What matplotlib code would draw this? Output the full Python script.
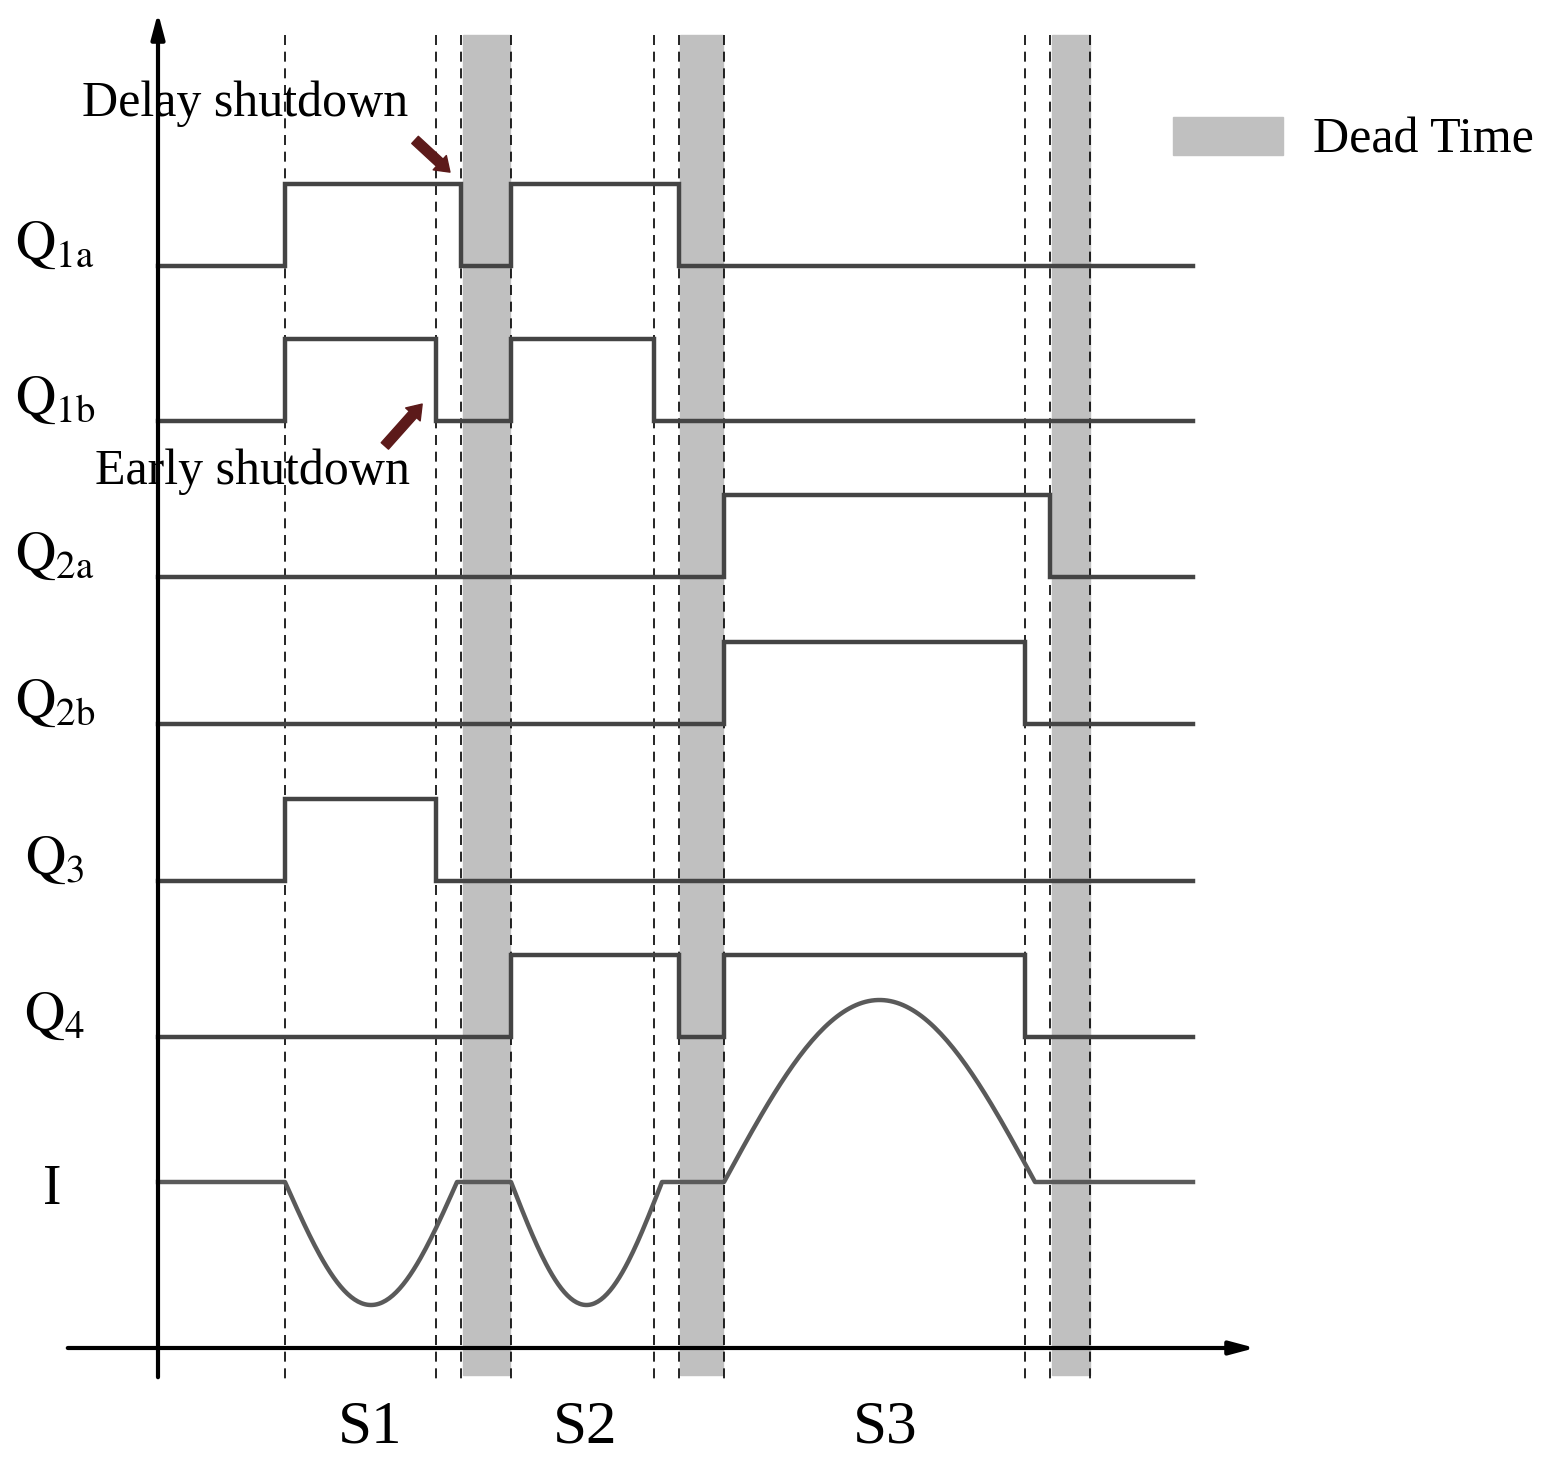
import numpy as np
import matplotlib
matplotlib.use("Agg")
import matplotlib.pyplot as plt
from matplotlib.patches import Rectangle

# Data (pixel-like time/level units)
labels = [r'$\mathrm{Q}_{\mathrm{1a}}$', r'$\mathrm{Q}_{\mathrm{1b}}$', r'$\mathrm{Q}_{\mathrm{2a}}$', r'$\mathrm{Q}_{\mathrm{2b}}$', r'$\mathrm{Q}_{3}$', r'$\mathrm{Q}_{4}$']
low_levels = [266, 421, 577, 724, 881, 1037]
high_offset = 82
on_intervals = [
    [(285, 461), (511, 679)],
    [(285, 436), (511, 654)],
    [(724, 1050)],
    [(724, 1025)],
    [(285, 436)],
    [(511, 679), (724, 1025)],
]
dashed_x = [285, 436, 461, 511, 654, 679, 724, 1025, 1050, 1090]
dead_bands = [(463, 510), (680, 723), (1052, 1090)]
t_start, t_end = 158, 1193
I_base = 1182
I_segments = [(285, 457, 123), (511, 662, 123), (724, 1035, -182)]
stage_labels = ['S1', 'S2', 'S3']
stage_x = [370, 585, 885]

plt.rcParams['mathtext.fontset'] = 'stix'
plt.rcParams['font.family'] = ['Liberation Serif', 'DejaVu Serif']
fig = plt.figure(figsize=(15.55, 14.65), dpi=100)
ax = fig.add_axes([0, 0, 1, 1])
ax.set_xlim(0, 1555); ax.set_ylim(1465, 0); ax.axis('off')
col = '#444444'; icol = '#5a5a5a'; lw = 3.2

for a, b in dead_bands:
    ax.add_patch(Rectangle((a, 35), b - a, 1340, color='#c0c0c0', zorder=1))
for x in dashed_x:
    ax.plot([x, x], [35, 1380], ls=(0, (6, 4)), color='black', lw=1.2, zorder=2)

for lab, lo, ivs in zip(labels, low_levels, on_intervals):
    xs = [t_start]; ys = [lo]
    for a, b in ivs:
        xs += [a, a, b, b]; ys += [lo, lo - high_offset, lo - high_offset, lo]
    xs.append(t_end); ys.append(lo)
    ax.plot(xs, ys, color=col, lw=lw, zorder=3, solid_joinstyle='miter')
    ax.text(55, lo - 20, lab, fontsize=40, ha='center', va='center')

xs = [t_start]; ys = [I_base]
for a, b, d in I_segments:
    t = np.linspace(0, 1, 100)
    xs += list(a + (b - a) * t); ys += list(I_base + d * np.sin(np.pi * t))
xs.append(t_end); ys.append(I_base)
ax.plot(xs, ys, color=icol, lw=lw, zorder=3)
ax.text(52, 1190, 'I', fontsize=40, ha='center', va='center')

ax.annotate('', xy=(158, 10), xytext=(158, 1380), arrowprops=dict(arrowstyle='-|>,head_length=1.5,head_width=0.4', color='black', lw=3), zorder=4)
ax.annotate('', xy=(1258, 1348), xytext=(65, 1348), arrowprops=dict(arrowstyle='-|>,head_length=1.5,head_width=0.4', color='black', lw=3), zorder=4)

for s, x in zip(stage_labels, stage_x):
    ax.text(x, 1428, s, fontsize=44, ha='center', va='center')

ax.text(82, 104, 'Delay shutdown', fontsize=36, ha='left', va='center')
ax.text(95, 472, 'Early shutdown', fontsize=36, ha='left', va='center')
ax.annotate('', xy=(452, 174), xytext=(413, 138), arrowprops=dict(arrowstyle='simple,head_length=1.0,head_width=1.4,tail_width=0.7', color='#5c1a1a'), zorder=5)
ax.annotate('', xy=(424, 402), xytext=(383, 448), arrowprops=dict(arrowstyle='simple,head_length=1.0,head_width=1.4,tail_width=0.7', color='#5c1a1a'), zorder=5)

ax.add_patch(Rectangle((1173, 117), 110, 38, color='#c0c0c0'))
ax.text(1313, 140, 'Dead Time', fontsize=36, ha='left', va='center')

fig.savefig('out.png', dpi=100)
